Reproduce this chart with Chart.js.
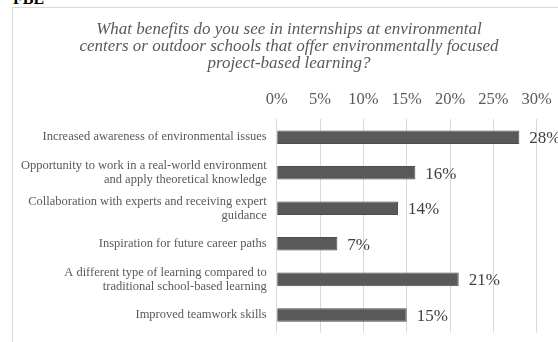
<!DOCTYPE html>
<html>
<head>
<meta charset="utf-8">
<script src="https://cdn.jsdelivr.net/npm/chart.js@4.4.1/dist/chart.umd.min.js"></script>
<style>
  html, body { margin: 0; padding: 0; background: #fff; overflow: hidden; }
  #wrap { position: relative; width: 558px; height: 342px; }
  #frame {
    position: absolute; left: 12px; top: 7px; width: 600px; height: 400px;
    border: 1px solid #d9d9d9; box-sizing: border-box;
  }
  #tag {
    position: absolute; left: 13px; top: -10px; line-height: 16px;
    font: bold 16px "Liberation Serif", serif; color: #000;
  }
  #chart1 { position: absolute; left: 0; top: 0; }
</style>
</head>
<body>
<div id="wrap">
  <div id="frame"></div>
  <div id="tag">FBE</div>
  <canvas id="chart1" width="558" height="342"></canvas>
</div>
<script>
// survey answers, share of respondents in percent
const benefits = [
  'Increased awareness of environmental issues',
  ['Opportunity to work in a real-world environment', 'and apply theoretical knowledge'],
  ['Collaboration with experts and receiving expert', 'guidance'],
  'Inspiration for future career paths',
  ['A different type of learning compared to', 'traditional school-based learning'],
  'Improved teamwork skills'
];
const shares = [28, 16, 14, 7, 21, 15];
const tickSteps = [0, 5, 10, 15, 20, 25, 30];

const questionLines = [
  'What benefits do you see in internships at environmental',
  'centers or outdoor schools that offer environmentally focused',
  'project-based learning?'
];

const serif = '"Liberation Serif", "Times New Roman", serif';

// percent labels just past the end of each bar
const barLabels = {
  id: 'barLabels',
  afterDatasetsDraw(chart) {
    const ctx = chart.ctx;
    const meta = chart.getDatasetMeta(0);
    ctx.save();
    ctx.font = '17px ' + serif;
    ctx.fillStyle = '#404040';
    ctx.textAlign = 'left';
    ctx.textBaseline = 'middle';
    meta.data.forEach((bar, i) => {
      ctx.fillText(shares[i] + '%', bar.x + 10, bar.y + 1.5);
    });
    ctx.restore();
  }
};

const chart1 = document.getElementById('chart1').getContext('2d');
const myChart1 = new Chart(chart1, {
  type: 'bar',
  data: {
    labels: benefits,
    datasets: [{
      data: shares,
      backgroundColor: '#595959',
      borderColor: '#4d4d4d',
      borderWidth: 1,
      barPercentage: 0.38,
      categoryPercentage: 1
    }]
  },
  plugins: [barLabels],
  options: {
    indexAxis: 'y',
    responsive: false,
    animation: false,
    devicePixelRatio: 1,
    layout: { padding: { left: 20, right: 0, top: 0, bottom: 9.3 } },
    plugins: {
      legend: { display: false },
      tooltip: { enabled: false },
      title: {
        display: true,
        text: questionLines,
        color: '#595959',
        font: { family: serif, size: 17, style: 'italic', weight: 'normal', lineHeight: 0.98 },
        padding: { top: 21.7, bottom: 18.4 }
      }
    },
    scales: {
      x: {
        position: 'top',
        min: 0,
        max: 30,
        afterBuildTicks(scale) {
          scale.ticks = tickSteps.map(v => ({ value: v }));
        },
        afterFit(scale) {
          scale.height = 29.3;
          scale.paddingRight = 21.3;
          scale.paddingLeft = 0;
          scale.paddingTop = 0;
          scale.paddingBottom = 0;
        },
        ticks: {
          padding: 10,
          color: '#595959',
          font: { family: serif, size: 16.5 },
          callback: v => v + '%'
        },
        grid: { color: '#d9d9d9', drawTicks: false },
        border: { display: false }
      },
      y: {
        afterFit(scale) {
          scale.width = 256.7;
          scale.paddingTop = 0;
          scale.paddingBottom = 0;
        },
        ticks: {
          padding: 10,
          color: '#595959',
          font: { family: serif, size: 12.5, lineHeight: 1.12 }
        },
        grid: { display: false, drawTicks: false },
        border: { display: false }
      }
    }
  }
});
</script>
</body>
</html>
